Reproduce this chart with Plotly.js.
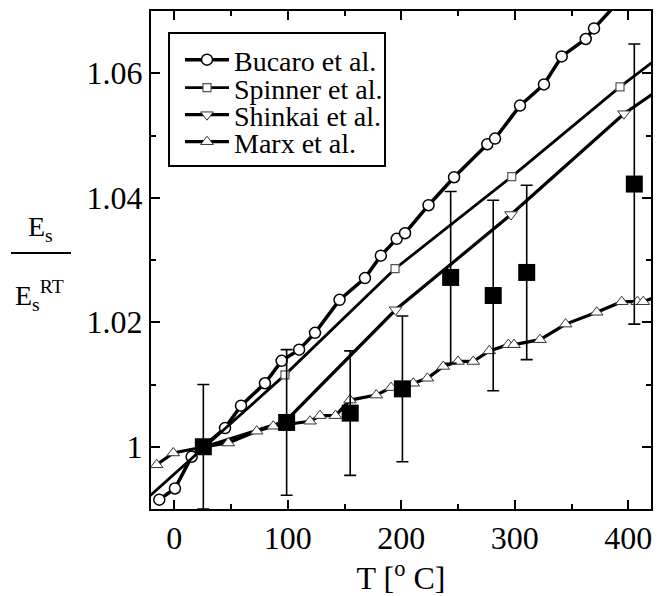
<!DOCTYPE html>
<html>
<head>
<meta charset="utf-8">
<script src="https://cdn.plot.ly/plotly-3.0.1.min.js"></script>
<style>html,body{margin:0;padding:0;background:#fff;}#chart{width:665px;height:596px;}</style>
</head>
<body>
<div id="chart"></div>
<script>
// ---- data ----
const bucaroT = [-13.2, 0.6, 15.3, 44.7, 58.8, 79.9, 94.6, 110, 124, 145.6, 168, 182, 196, 203.3, 224, 246.5, 275.8, 282.6, 304.6, 325.7, 341.3, 362.5, 369.8, 400];
const bucaroE = [0.9915, 0.9933, 0.9984, 1.0030, 1.0066, 1.0102, 1.0138, 1.0156, 1.0183, 1.0236, 1.0271, 1.0307, 1.0334, 1.0343, 1.0388, 1.0433, 1.0486, 1.0495, 1.0548, 1.0582, 1.0627, 1.0655, 1.0672, 1.0732];

const spinnerT = [-30, 27, 97.5, 194.5, 297.3, 392.7, 440];
const spinnerE = [0.9907, 1.0, 1.01155, 1.0286, 1.0434, 1.0578, 1.0644];

const shinkaiT = [27, 98, 195, 296.7, 396.2, 440];
const shinkaiE = [1.0, 1.0041, 1.0220, 1.0373, 1.0535, 1.0590];

const marxT = [-15.5, -0.9, 27, 47.6, 72.6, 87.2, 119.6, 128.4, 142, 154.8, 178, 191, 210.6, 223, 237, 250, 263.4, 277.5, 294.3, 299.3, 322.2, 344.8, 372.2, 394.2, 408, 413.2, 430];
const marxE = [0.9971, 0.9990, 1.0, 1.0006, 1.0025, 1.0033, 1.0041, 1.0050, 1.0050, 1.0075, 1.0083, 1.0095, 1.0102, 1.0110, 1.0129, 1.0137, 1.0137, 1.0154, 1.0164, 1.0164, 1.0172, 1.0197, 1.0216, 1.0233, 1.0233, 1.0233, 1.0245];

const measT = [25.6, 99, 155, 201, 243.5, 281, 310.5, 405.3];
const measE = [1.0, 1.0039, 1.0054, 1.0093, 1.0272, 1.0243, 1.0280, 1.0422];
const measErr = [0.0100, 0.0117, 0.0100, 0.0117, 0.0138, 0.0153, 0.0140, 0.0225];

const xTickVals = [0, 100, 200, 300, 400];
const yTickVals = [1, 1.02, 1.04, 1.06];
const yTickText = ['1', '1.02', '1.04', '1.06'];

const seriesNames = ['Bucaro et al.', 'Spinner et al.', 'Shinkai et al.', 'Marx et al.'];

// ---- traces ----
const FONT = 'Liberation Serif, Times New Roman, serif';
const traces = [
  {x: bucaroT, y: bucaroE, name: seriesNames[0], mode: 'lines+markers', legend: 'legend',
   line: {color: '#000', width: 3.5},
   marker: {symbol: 'circle', size: 11, color: '#fff', line: {color: '#000', width: 1.5}}},
  {x: spinnerT, y: spinnerE, name: seriesNames[1], mode: 'lines+markers', legend: 'legend2',
   line: {color: '#000', width: 2.8},
   marker: {symbol: 'square', size: 8, color: '#fff', line: {color: '#555', width: 1.2}}},
  {x: shinkaiT, y: shinkaiE, name: seriesNames[2], mode: 'lines+markers', legend: 'legend3',
   line: {color: '#000', width: 3.2},
   marker: {symbol: 'triangle-down', size: 11, color: '#fff', line: {color: '#333', width: 1}}},
  {x: marxT, y: marxE, name: seriesNames[3], mode: 'lines+markers', legend: 'legend4',
   line: {color: '#000', width: 3.2},
   marker: {symbol: 'triangle-up', size: 11, color: '#fff', line: {color: '#333', width: 1}}},
  {x: measT, y: measE, mode: 'markers', showlegend: false,
   marker: {symbol: 'square', size: 17, color: '#000', line: {width: 0}},
   error_y: {type: 'data', array: measErr, visible: true, color: '#000', thickness: 1.6, width: 6}}
];

// ---- layout ----
const L = 151, R = 651, T = 11, B = 509;
const W = R - L, H = B - T;
const px = v => (v - L) / W;
const py = v => (B - v) / H;

function leg(yc) {
  return {x: px(180), y: py(yc), xanchor: 'left', yanchor: 'middle', bgcolor: 'rgba(0,0,0,0)',
          borderwidth: 0, font: {family: FONT, size: 28, color: '#000'}, itemwidth: 44};
}

const layout = {
  width: 665, height: 596,
  margin: {l: L, r: 665 - R, t: T, b: 596 - B, pad: 0},
  paper_bgcolor: '#fff', plot_bgcolor: '#fff',
  font: {family: FONT, color: '#000', size: 32},
  showlegend: true,
  legend: leg(60), legend2: leg(88), legend3: leg(115), legend4: leg(142),
  xaxis: {
    range: [-20.5, 420], showgrid: false, zeroline: false,
    showline: true, linecolor: '#000', linewidth: 2, mirror: 'allticks',
    ticks: 'inside', ticklen: 9, tickwidth: 2, tickcolor: '#000',
    tickmode: 'array', tickvals: xTickVals,
    tickfont: {family: FONT, size: 32, color: '#000'},
    minor: {dtick: 50, tick0: 0, ticks: 'inside', ticklen: 5, tickwidth: 2, tickcolor: '#000', showgrid: false},
    title: {text: 'T [<sup>o</sup> C]', font: {family: FONT, size: 32, color: '#000'}, standoff: 6}
  },
  yaxis: {
    range: [0.99, 1.07], showgrid: false, zeroline: false,
    showline: true, linecolor: '#000', linewidth: 2, mirror: 'allticks',
    ticks: 'inside', ticklen: 9, tickwidth: 2, tickcolor: '#000',
    tickmode: 'array', tickvals: yTickVals, ticktext: yTickText,
    tickfont: {family: FONT, size: 32, color: '#000'},
    minor: {dtick: 0.01, tick0: 0.99, ticks: 'inside', ticklen: 5, tickwidth: 2, tickcolor: '#000', showgrid: false}
  },
  shapes: [
    {type: 'rect', xref: 'paper', yref: 'paper', x0: px(169), x1: px(385), y0: py(166), y1: py(33),
     line: {color: '#000', width: 2}, fillcolor: 'rgba(0,0,0,0)', layer: 'above'},
    {type: 'line', xref: 'paper', yref: 'paper', x0: px(11), x1: px(71), y0: py(253), y1: py(253),
     line: {color: '#000', width: 2}}
  ],
  annotations: [
    {text: 'E<sub>s</sub>', xref: 'paper', yref: 'paper', x: px(40), y: py(228), xanchor: 'center', yanchor: 'middle',
     showarrow: false, font: {family: FONT, size: 28, color: '#000'}},
    {text: 'E<sub>s</sub><sup>RT</sup>', xref: 'paper', yref: 'paper', x: px(39), y: py(295), xanchor: 'center', yanchor: 'middle',
     showarrow: false, font: {family: FONT, size: 28, color: '#000'}}
  ]
};

Plotly.newPlot('chart', traces, layout, {displayModeBar: false, staticPlot: true});
</script>
</body>
</html>
